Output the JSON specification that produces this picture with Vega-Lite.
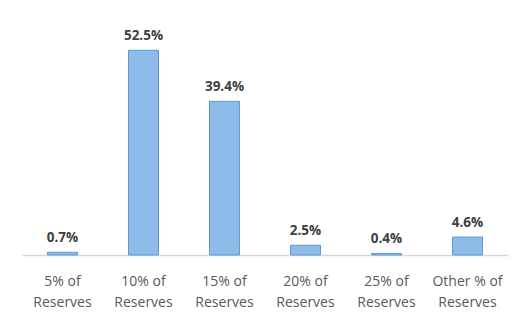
{
  "$schema": "https://vega.github.io/schema/vega-lite/v6.json",
  "autosize": "none",
  "padding": {"left": 22, "top": 21, "right": 10, "bottom": 59},
  "width": 486,
  "height": 234,
  "background": "white",
  "config": {"view": {"stroke": null}, "font": "Open Sans"},
  "data": {"values": [
    {"category": "5% of|Reserves", "value": 0.7, "label": "0.7%"},
    {"category": "10% of|Reserves", "value": 52.5, "label": "52.5%"},
    {"category": "15% of|Reserves", "value": 39.4, "label": "39.4%"},
    {"category": "20% of|Reserves", "value": 2.5, "label": "2.5%"},
    {"category": "25% of|Reserves", "value": 0.4, "label": "0.4%"},
    {"category": "Other % of|Reserves", "value": 4.6, "label": "4.6%"}
  ]},
  "encoding": {
    "x": {"field": "category", "type": "nominal", "sort": null,
      "scale": {"paddingInner": 0.63, "paddingOuter": 0.315},
      "axis": {"title": null, "labelAngle": 0, "ticks": false, "domainColor": "#d9d9d9", "domainWidth": 1.5,
        "labelExpr": "split(datum.label, '|')", "labelFontSize": 14, "labelColor": "#595959",
        "labelPadding": 19, "labelLineHeight": 21, "labelFont": "Open Sans"}},
    "y": {"field": "value", "type": "quantitative", "scale": {"domain": [0, 60]}, "axis": null}
  },
  "layer": [
    {"mark": {"type": "bar", "fill": "#8fbbe8", "stroke": "#5b9bd5", "strokeWidth": 1}},
    {"mark": {"type": "text", "baseline": "bottom", "dy": -7, "fontSize": 13.5, "fontWeight": "bold", "color": "#404040"},
     "encoding": {"text": {"field": "label"}}}
  ]
}
